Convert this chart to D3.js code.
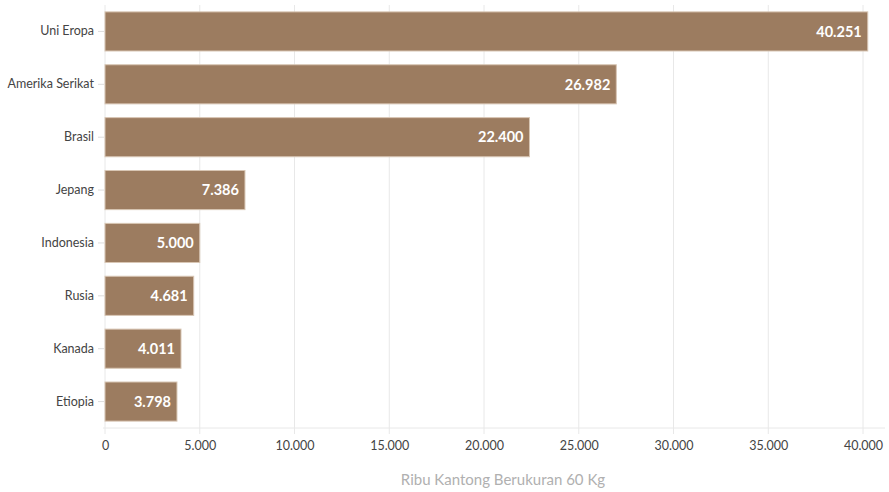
<html><head>
<script src="https://d3js.org/d3.v7.min.js"></script>
<style>
  body { margin: 0; background: #fff; }
  text { font-family: Lato, "Open Sans", sans-serif; }
  .tick-label { fill: #444; font-size: 12.5px; }
  .bar-label { fill: #fff; font-size: 14.5px; font-weight: 700; text-anchor: end; }
</style>
</head>
<body>
<svg id="chart" width="889" height="492"></svg>
<script>

  // Data
  const countries = ["Uni Eropa", "Amerika Serikat", "Brasil", "Jepang", "Indonesia", "Rusia", "Kanada", "Etiopia"];
  const values = [40251, 26982, 22400, 7386, 5000, 4681, 4011, 3798];
  const xTicks = [0, 5000, 10000, 15000, 20000, 25000, 30000, 35000, 40000];
  const axisTitle = "Ribu Kantong Berukuran 60 Kg";

  const svg = d3.select("#chart");
  const plotLeft = 105, plotRight = 863, plotTop = 5, plotBottom = 428;

  // thousands separated with a dot
  const fmt = d3.formatLocale({decimal: ",", thousands: ".", grouping: [3], currency: ["", ""]}).format(",d");

  const x = d3.scaleLinear().domain([0, 40000]).range([plotLeft, plotRight]);
  const y = d3.scaleBand().domain(countries).range([plotTop, plotBottom]).paddingInner(0.26).paddingOuter(0.13);

  // gridlines
  svg.append("g").selectAll("line").data(xTicks)
     .join("line")
     .attr("x1", d => x(d)).attr("x2", d => x(d))
     .attr("y1", plotTop).attr("y2", plotBottom + 6)
     .attr("stroke", "#e8e8e8").attr("stroke-width", 1);

  svg.append("line")
     .attr("x1", plotLeft - 2).attr("x2", 885)
     .attr("y1", plotBottom).attr("y2", plotBottom)
     .attr("stroke", "#e8e8e8");

  // bars
  const rows = countries.map((c, i) => ({country: c, value: values[i]}));

  svg.append("g").selectAll("rect").data(rows)
     .join("rect")
     .attr("x", x(0))
     .attr("y", d => y(d.country))
     .attr("width", d => x(d.value) - x(0))
     .attr("height", y.bandwidth())
     .attr("fill", "#9c7c60")
     .attr("stroke", "#d8c6b4").attr("stroke-width", 1);

  svg.append("g").selectAll("text").data(rows)
     .join("text")
     .attr("class", "bar-label")
     .attr("x", d => x(d.value) - 6)
     .attr("y", d => y(d.country) + y.bandwidth() / 2)
     .attr("dy", "0.36em")
     .text(d => fmt(d.value));

  // y axis labels with small ticks
  const yAxis = svg.append("g").attr("transform", "translate(" + (plotLeft - 1) + ",0)")
     .call(d3.axisLeft(y).tickSize(6).tickPadding(4));
  yAxis.select(".domain").remove();
  yAxis.selectAll(".tick line").attr("stroke", "#ddd");
  yAxis.selectAll(".tick text").attr("class", "tick-label").attr("font-size", null).attr("font-family", null);

  // x axis labels
  const xAxis = svg.append("g").attr("transform", "translate(0," + plotBottom + ")")
     .call(d3.axisBottom(x).tickValues(xTicks).tickFormat(d => d === 0 ? "0" : fmt(d)).tickSize(0).tickPadding(13));
  xAxis.select(".domain").remove();
  xAxis.selectAll(".tick text").attr("class", "tick-label").attr("font-size", null).attr("font-family", null);

  svg.append("text")
     .attr("x", (plotLeft + plotRight) / 2 + 19)
     .attr("y", 485)
     .attr("text-anchor", "middle")
     .attr("fill", "#b0b0b0")
     .attr("font-size", "15px")
     .text(axisTitle);

</script>
</body>
</html>
